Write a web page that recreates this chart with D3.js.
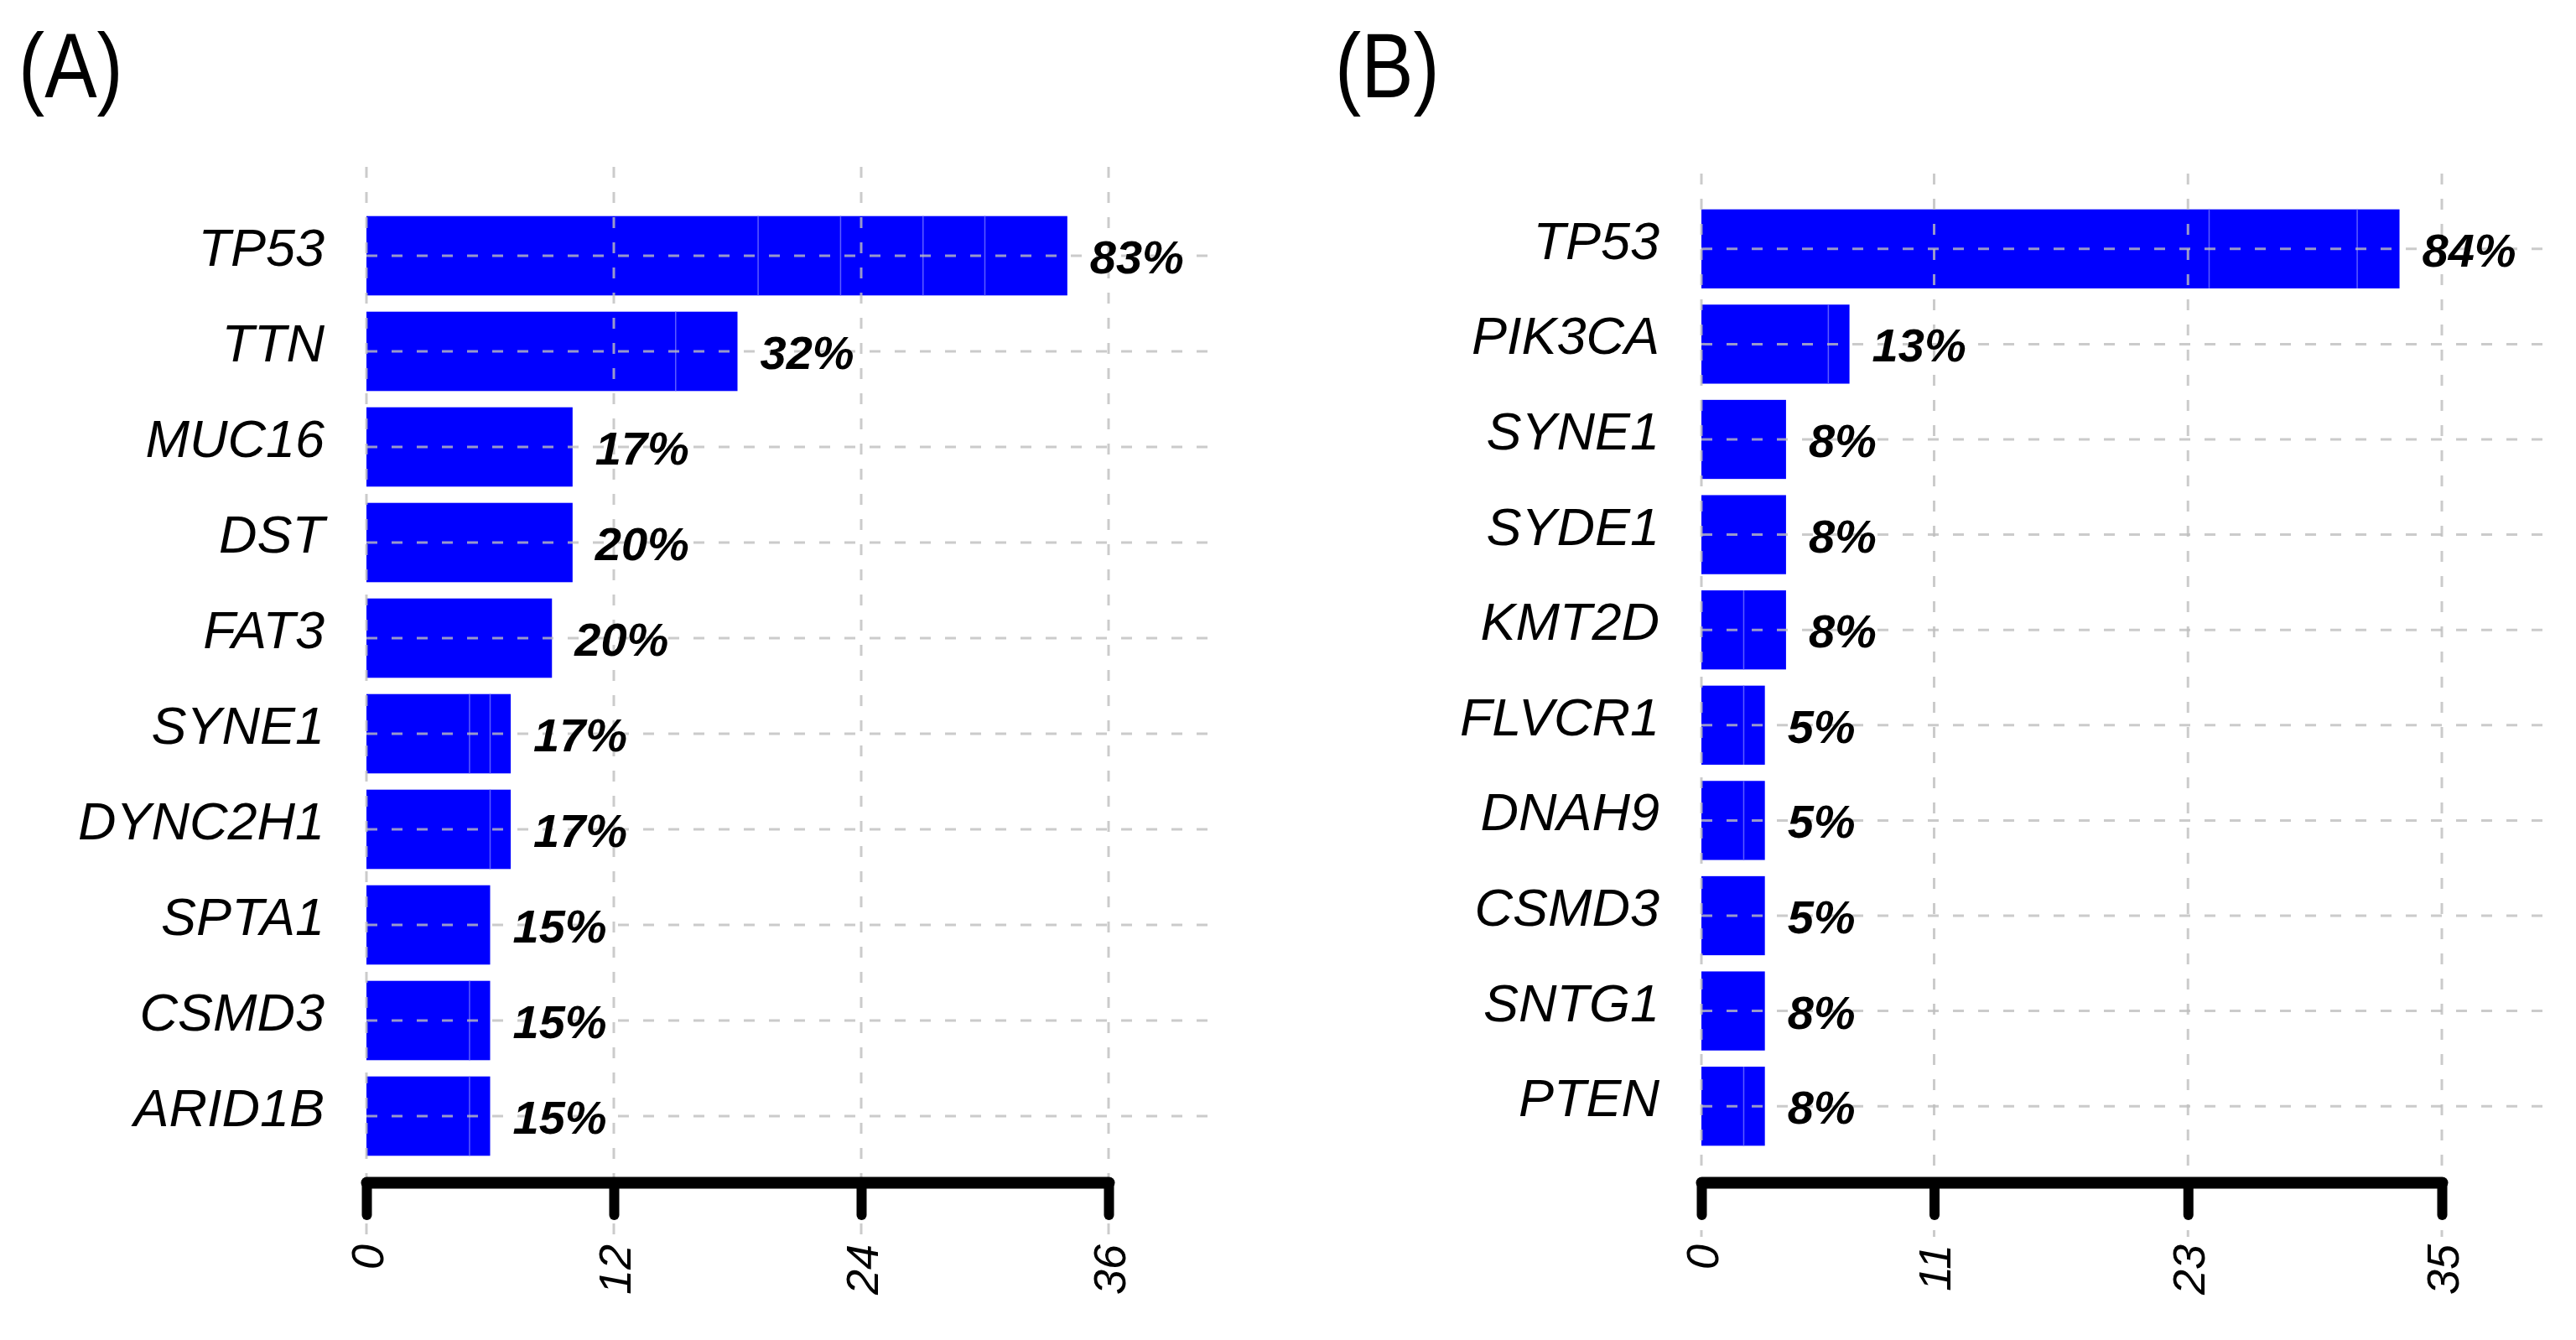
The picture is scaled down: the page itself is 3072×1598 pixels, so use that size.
<!DOCTYPE html>
<html>
<head>
<meta charset="utf-8">
<script src="https://cdn.jsdelivr.net/npm/d3@7"></script>
<style>
  body { margin: 0; background: #fff; }
  svg { display: block; }
</style>
</head>
<body>
<div id="container"></div>
<script>
// panel A data
var genesA = ["TP53", "TTN", "MUC16", "DST", "FAT3", "SYNE1", "DYNC2H1", "SPTA1", "CSMD3", "ARID1B"];
var countsA = [34, 18, 10, 10, 9, 7, 7, 6, 6, 6];
var segmentsA = [[19, 4, 4, 3, 4], [15, 3], [10], [10], [9], [5, 1, 1], [6, 1], [6], [5, 1], [5, 1]];
var pctA = ["83%", "32%", "17%", "20%", "20%", "17%", "17%", "15%", "15%", "15%"];
var ticksA = [0, 12, 24, 36];

// panel B data
var genesB = ["TP53", "PIK3CA", "SYNE1", "SYDE1", "KMT2D", "FLVCR1", "DNAH9", "CSMD3", "SNTG1", "PTEN"];
var countsB = [33, 7, 4, 4, 4, 3, 3, 3, 3, 3];
var segmentsB = [[24, 7, 2], [6, 1], [4], [4], [2, 2], [2, 1], [2, 1], [3], [3], [2, 1]];
var pctB = ["84%", "13%", "8%", "8%", "8%", "5%", "5%", "5%", "8%", "8%"];
var ticksB = [0, 11, 23, 35];

var W = 3072, H = 1598;
var FONT = "'Liberation Sans', Arial, sans-serif";
var BLUE = "#0000ff";
var GRID = "#bebebe";

var svg = d3.select("#container")
  .append("svg")
    .attr("width", W)
    .attr("height", H);

function draw_panel(cfg) {
    var g = svg.append("g");

    var x = d3.scaleLinear()
        .domain([0, cfg.ticks[cfg.ticks.length - 1]])
        .range([cfg.x0, cfg.x1]);

    var y = d3.scaleBand()
        .domain(cfg.genes)
        .range(cfg.yRange)
        .paddingInner(0.17)
        .paddingOuter(0.085);

    var rows = cfg.genes.map(function (d, i) {
        return {gene: d, count: cfg.counts[i], segs: cfg.segs[i], pct: cfg.pct[i]};
    });

    // panel letter (narrow-ish face in the original)
    g.append("text")
        .attr("transform", "translate(" + cfg.titleX + ",116) scale(0.85,1)")
        .text(cfg.title)
        .attr("font-family", FONT)
        .attr("font-size", "110px")
        .attr("fill", "black");

    // bars
    g.selectAll("rect.bar")
      .data(rows)
      .enter()
      .append("rect")
        .attr("class", "bar")
        .attr("x", x(0))
        .attr("y", function (d) { return y(d.gene); })
        .attr("width", function (d) { return x(d.count) - x(0); })
        .attr("height", y.bandwidth())
        .attr("fill", BLUE);

    // faint separators between stacked pieces
    rows.forEach(function (d) {
        var acc = 0;
        d.segs.slice(0, -1).forEach(function (s) {
            acc += s;
            g.append("line")
                .attr("x1", x(acc)).attr("x2", x(acc))
                .attr("y1", y(d.gene)).attr("y2", y(d.gene) + y.bandwidth())
                .attr("stroke", "#5c5cff")
                .attr("stroke-width", 1.5);
        });
    });

    // vertical grid
    g.selectAll("line.vgrid")
      .data(cfg.ticks)
      .enter()
      .append("line")
        .attr("x1", function (d) { return x(d); })
        .attr("x2", function (d) { return x(d); })
        .attr("y1", cfg.gridTop)
        .attr("y2", 1475)
        .attr("stroke", GRID)
        .attr("stroke-opacity", 0.8)
        .attr("stroke-width", 3)
        .attr("stroke-dasharray", "13,17");

    // horizontal grid
    g.selectAll("line.hgrid")
      .data(rows)
      .enter()
      .append("line")
        .attr("x1", x(0))
        .attr("x2", x(0) + 1008)
        .attr("y1", function (d) { return y(d.gene) + y.bandwidth() / 2; })
        .attr("y2", function (d) { return y(d.gene) + y.bandwidth() / 2; })
        .attr("stroke", GRID)
        .attr("stroke-opacity", 0.8)
        .attr("stroke-width", 3)
        .attr("stroke-dasharray", "13,17");

    // gene names
    g.selectAll("text.gene")
      .data(rows)
      .enter()
      .append("text")
        .attr("x", x(0) - 50)
        .attr("y", function (d) { return y(d.gene) + y.bandwidth() / 2 + 12; })
        .attr("text-anchor", "end")
        .text(function (d) { return d.gene; })
        .attr("font-family", FONT)
        .attr("font-style", "italic")
        .attr("font-size", "63px")
        .attr("fill", "black");

    // percentages
    g.selectAll("text.pct")
      .data(rows)
      .enter()
      .append("text")
        .attr("x", function (d) { return x(d.count) + 27; })
        .attr("y", function (d) { return y(d.gene) + y.bandwidth() / 2 + 21; })
        .text(function (d) { return d.pct; })
        .attr("font-family", FONT)
        .attr("font-style", "italic")
        .attr("font-weight", "bold")
        .attr("font-size", "56px")
        .attr("fill", "black");

    // thick x axis
    var axis = d3.axisBottom(x)
        .tickValues(cfg.ticks)
        .tickSize(39)
        .tickSizeOuter(0)
        .tickFormat(d3.format("d"));

    var ax = g.append("g")
        .attr("transform", "translate(0,1410)")
        .call(axis);

    ax.select(".domain")
        .attr("stroke", "black")
        .attr("stroke-width", 14)
        .attr("stroke-linecap", "round");
    ax.selectAll(".tick line")
        .attr("stroke", "black")
        .attr("stroke-width", 12)
        .attr("stroke-linecap", "round");
    ax.selectAll(".tick text")
        .attr("transform", "translate(0,74) rotate(-90)")
        .attr("x", 0)
        .attr("y", 0)
        .attr("dy", "0.36em")
        .attr("text-anchor", "end")
        .attr("font-family", FONT)
        .attr("font-style", "italic")
        .attr("font-size", "54px")
        .attr("fill", "black");
}

draw_panel({
    title: "(A)", titleX: 22,
    genes: genesA, counts: countsA, segs: segmentsA, pct: pctA, ticks: ticksA,
    x0: 437, x1: 1322, yRange: [248, 1388], gridTop: 199
});

draw_panel({
    title: "(B)", titleX: 1592,
    genes: genesB, counts: countsB, segs: segmentsB, pct: pctB, ticks: ticksB,
    x0: 2029, x1: 2912, yRange: [240, 1376], gridTop: 207
});
</script>
</body>
</html>
